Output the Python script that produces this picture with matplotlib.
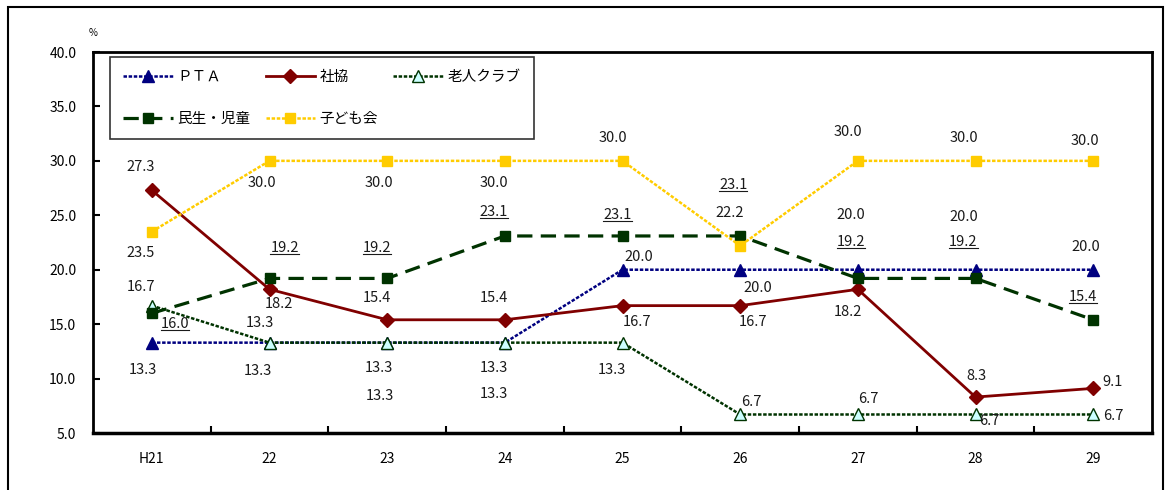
import matplotlib
matplotlib.use("Agg")
from matplotlib import pyplot as plt
from matplotlib.patches import Rectangle
from matplotlib.lines import Line2D

plt.rcParams['font.family'] = ['Noto Sans CJK JP', 'DejaVu Sans']
plt.rcParams['lines.scale_dashes'] = False

years = ['H21', '22', '23', '24', '25', '26', '27', '28', '29']

pta = [13.3, 13.3, 13.3, 13.3, 20.0, 20.0, 20.0, 20.0, 20.0]
shakyo = [27.3, 18.2, 15.4, 15.4, 16.7, 16.7, 18.2, 8.3, 9.1]
rojin = [16.7, 13.3, 13.3, 13.3, 13.3, 6.7, 6.7, 6.7, 6.7]
minsei = [16.0, 19.2, 19.2, 23.1, 23.1, 23.1, 19.2, 19.2, 15.4]
kodomo = [23.5, 30.0, 30.0, 30.0, 30.0, 22.2, 30.0, 30.0, 30.0]

# label offsets in pixels (dx, dy up) for each point
off_pta = [(-9, -27), (-12, -28), (-8, -25), (-11, -25), (16, 13), (18, -18), (-7, 55), (-12, 53), (-7, 23)]
off_shakyo = [(-11, 23), (9, -15), (-10, 22), (-11, 22), (15, -16), (13, -16), (-10, -23), (1, 21), (19, 6)]
off_rojin = [(-11, 19), (-10, 20), (-7, -53), (-11, -51), (-11, -27), (11, 12), (10, 15), (14, -7), (20, -2)]
off_minsei = [(23, -11), (15, 30), (-10, 30), (-11, 24), (-5, 21), (-7, 51), (-7, 36), (-12, 36), (-10, 23)]
off_kodomo = [(-11, -21), (-8, -22), (-8, -22), (-11, -22), (-10, 23), (-10, 33), (-10, 29), (-12, 23), (-8, 20)]

fig = plt.figure(figsize=(11.7, 4.9), dpi=100)
ax = fig.add_axes([93 / 1170, 57 / 490, 1059 / 1170, 381 / 490])

x = list(range(len(years)))

l_pta, = ax.plot(x, pta, color='#000080', lw=1.8, dashes=(2.5, 1.2), marker='^', ms=8,
                 mfc='#000080', mec='#000080', label='ＰＴＡ', zorder=3)
l_sha, = ax.plot(x, shakyo, color='#800000', lw=2.0, marker='D', ms=7,
                 mfc='#800000', mec='#800000', label='社協', zorder=3)
l_roj, = ax.plot(x, rojin, color='#003300', lw=1.8, dashes=(2.5, 1.2), marker='^', ms=9,
                 mfc='#CCFFFF', mec='#003300', mew=1.0, label='老人クラブ', zorder=3)
l_min, = ax.plot(x, minsei, color='#003300', lw=2.3, dashes=(11, 6), marker='s', ms=7,
                 mfc='#003300', mec='#003300', label='民生・児童', zorder=3)
l_kod, = ax.plot(x, kodomo, color='#FFCC00', lw=1.8, dashes=(2.5, 1.2), marker='s', ms=7.5,
                 mfc='#FFCC00', mec='#FFCC00', label='子ども会', zorder=3)

under = []
for vals, offs, ul in [(pta, off_pta, False), (shakyo, off_shakyo, False),
                       (rojin, off_rojin, False), (minsei, off_minsei, True),
                       (kodomo, off_kodomo, False)]:
    for i, v in enumerate(vals):
        t = ax.annotate(f'{v:.1f}', (i, v), xytext=offs[i], textcoords='offset pixels',
                        ha='center', va='center', fontsize=10.5, color='#1a1a1a', zorder=5)
        if ul:
            under.append(t)

ax.set_xlim(-0.5, 8.5)
ax.set_ylim(5, 40)
ax.set_yticks([5, 10, 15, 20, 25, 30, 35, 40])
ax.set_yticklabels([f'{v:.1f}' for v in [5, 10, 15, 20, 25, 30, 35, 40]])
ax.set_xticks(x)
ax.set_xticklabels(years)
ax.set_xticks([i + 0.5 for i in range(8)], minor=True)
ax.tick_params(axis='x', which='major', length=0, pad=14, labelsize=10)
ax.tick_params(axis='x', which='minor', direction='in', length=5, width=1.5)
ax.tick_params(axis='y', direction='in', length=5, width=1.5, pad=12, labelsize=10)

for s in ['top', 'right', 'left']:
    ax.spines[s].set_linewidth(2.0)
ax.spines['bottom'].set_linewidth(2.5)

ax.text(0, 1.05, '%', transform=ax.transAxes, fontsize=7, ha='center', va='center')

# column-wise fill so rows read PTA, 社協, 老人クラブ / 民生・児童, 子ども会
handles = [l_pta, l_min, l_sha, l_kod, l_roj]
leg = ax.legend(handles, [h.get_label() for h in handles], loc='upper left',
                bbox_to_anchor=(0.016, 0.765, 0.4, 0.222), mode='expand',
                ncol=3, fontsize=10.5, handlelength=3.4, handletextpad=0.3,
                labelspacing=1.9, borderpad=0.9, frameon=True, fancybox=False,
                borderaxespad=0)
leg.get_frame().set_edgecolor('black')
leg.get_frame().set_linewidth(1.2)

fig.add_artist(Rectangle((8 / 1170, -0.05), 1155 / 1170, 1.05 - 7 / 490,
                         transform=fig.transFigure, fill=False, ec='black', lw=1.5))

# underline the 民生・児童 labels
fig.canvas.draw()
W, H = fig.bbox.width, fig.bbox.height
for t in under:
    bb = t.get_window_extent()
    y0 = bb.y0 + 1
    fig.add_artist(Line2D([bb.x0 / W, bb.x1 / W], [y0 / H, y0 / H],
                          transform=fig.transFigure, color='#1a1a1a', lw=0.8))

fig.savefig('out.png', dpi=100)
